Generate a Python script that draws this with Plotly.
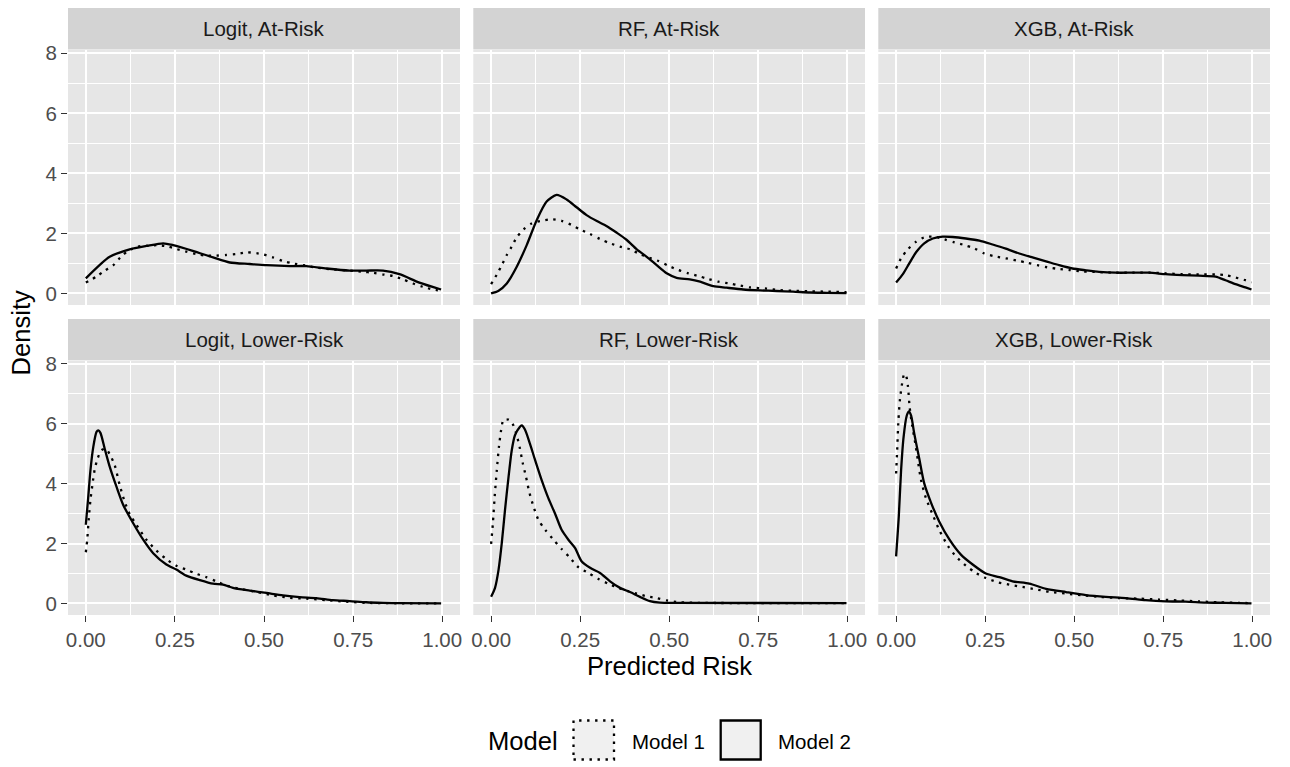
import plotly.graph_objects as go

# ---------------- data ----------------
facet_labels = ["Logit, At-Risk", "RF, At-Risk", "XGB, At-Risk",
                "Logit, Lower-Risk", "RF, Lower-Risk", "XGB, Lower-Risk"]
series_names = ["Model 1", "Model 2"]
x_tickvals = [0, 0.25, 0.5, 0.75, 1.0]
x_ticktext = ["0.00", "0.25", "0.50", "0.75", "1.00"]
y_tickvals = [0, 2, 4, 6, 8]
y_ticktext = ["0", "2", "4", "6", "8"]

# Logit, At-Risk
logit_at_m1_x = [0, 0.03, 0.053, 0.077, 0.097, 0.119, 0.147, 0.175, 0.203, 0.231, 0.254, 0.282, 0.31, 0.338, 0.366,
                 0.394, 0.422, 0.452, 0.479, 0.497, 0.525, 0.553, 0.581, 0.611, 0.647, 0.693, 0.74, 0.778, 0.806,
                 0.834, 0.862, 0.89, 0.918, 0.946, 0.974, 0.997]
logit_at_m1_y = [0.36, 0.56, 0.76, 0.94, 1.2, 1.42, 1.56, 1.59, 1.61, 1.56, 1.48, 1.39, 1.31, 1.26, 1.26,
                 1.28, 1.31, 1.37, 1.34, 1.30, 1.2, 1.08, 1.0, 0.94, 0.86, 0.8, 0.76, 0.72, 0.69,
                 0.63, 0.58, 0.47, 0.33, 0.22, 0.13, 0.09]
logit_at_m2_x = [0, 0.067, 0.123, 0.17, 0.217, 0.245, 0.30, 0.357, 0.404, 0.46, 0.507, 0.572, 0.619, 0.675,
                 0.74, 0.787, 0.834, 0.88, 0.936, 0.997]
logit_at_m2_y = [0.5, 1.22, 1.47, 1.58, 1.67, 1.61, 1.42, 1.2, 1.03, 0.98, 0.94, 0.91, 0.91, 0.83,
                 0.76, 0.76, 0.76, 0.64, 0.36, 0.13]

# RF, At-Risk
rf_at_m1_x = [0, 0.016, 0.03, 0.044, 0.058, 0.072, 0.091, 0.114, 0.142, 0.17, 0.198, 0.226, 0.25, 0.278, 0.306,
              0.334, 0.362, 0.39, 0.418, 0.442, 0.47, 0.498, 0.526, 0.554, 0.582, 0.61, 0.638, 0.671, 0.699,
              0.727, 0.774, 0.811, 0.848, 0.895, 0.942, 0.998]
rf_at_m1_y = [0.31, 0.63, 0.94, 1.28, 1.56, 1.87, 2.13, 2.33, 2.42, 2.47, 2.42, 2.28, 2.13, 1.98, 1.81,
              1.67, 1.56, 1.47, 1.31, 1.2, 1.08, 0.92, 0.78, 0.67, 0.58, 0.48, 0.39, 0.33, 0.26,
              0.2, 0.16, 0.11, 0.09, 0.07, 0.06, 0.04]
rf_at_m2_x = [0, 0.02, 0.044, 0.072, 0.1, 0.128, 0.156, 0.184, 0.212, 0.24, 0.268, 0.297, 0.325, 0.353, 0.381,
              0.409, 0.437, 0.465, 0.493, 0.521, 0.558, 0.587, 0.624, 0.661, 0.708, 0.755, 0.802, 0.848,
              0.895, 0.942, 0.998]
rf_at_m2_y = [0.0, 0.08, 0.33, 0.89, 1.61, 2.44, 3.06, 3.28, 3.13, 2.87, 2.61, 2.41, 2.24, 2.02, 1.78,
              1.47, 1.22, 0.94, 0.67, 0.52, 0.47, 0.39, 0.24, 0.19, 0.13, 0.1, 0.08, 0.06,
              0.03, 0.02, 0.01]

# XGB, At-Risk
xgb_at_m1_x = [0, 0.014, 0.033, 0.056, 0.079, 0.107, 0.136, 0.164, 0.192, 0.22, 0.248, 0.276, 0.308, 0.341,
               0.369, 0.397, 0.425, 0.453, 0.486, 0.523, 0.57, 0.617, 0.664, 0.71, 0.757, 0.804, 0.85, 0.897,
               0.925, 0.953, 0.981, 0.998]
xgb_at_m1_y = [0.83, 1.17, 1.47, 1.72, 1.87, 1.89, 1.8, 1.7, 1.61, 1.5, 1.33, 1.24, 1.17, 1.09,
               1.02, 0.94, 0.87, 0.82, 0.78, 0.73, 0.71, 0.69, 0.69, 0.69, 0.67, 0.64, 0.63, 0.63,
               0.61, 0.53, 0.44, 0.37]
xgb_at_m2_x = [0, 0.019, 0.037, 0.056, 0.079, 0.103, 0.131, 0.159, 0.196, 0.234, 0.271, 0.308, 0.346, 0.383,
               0.421, 0.458, 0.495, 0.533, 0.57, 0.617, 0.664, 0.71, 0.757, 0.804, 0.85, 0.897, 0.925, 0.953,
               0.981, 0.998]
xgb_at_m2_y = [0.36, 0.64, 1.0, 1.37, 1.67, 1.83, 1.89, 1.88, 1.83, 1.76, 1.63, 1.49, 1.33, 1.2,
               1.07, 0.94, 0.83, 0.77, 0.72, 0.69, 0.69, 0.69, 0.64, 0.61, 0.59, 0.56, 0.44, 0.31,
               0.2, 0.13]

# Logit, Lower-Risk
logit_lo_m1_x = [0, 0.004, 0.008, 0.013, 0.019, 0.025, 0.033, 0.044, 0.056, 0.067, 0.081, 0.095, 0.109, 0.123,
                 0.142, 0.17, 0.198, 0.226, 0.254, 0.282, 0.31, 0.338, 0.366, 0.394, 0.432, 0.479, 0.525,
                 0.572, 0.619, 0.675, 0.731, 0.787, 0.997]
logit_lo_m1_y = [1.71, 2.13, 2.79, 3.46, 4.01, 4.48, 4.84, 5.12, 5.17, 4.99, 4.62, 3.96, 3.4, 2.99,
                 2.63, 2.13, 1.77, 1.48, 1.26, 1.13, 0.99, 0.88, 0.74, 0.6, 0.49, 0.38, 0.27,
                 0.19, 0.16, 0.11, 0.06, 0.02, 0.0]
logit_lo_m2_x = [0, 0.0065, 0.013, 0.021, 0.03, 0.035, 0.041, 0.053, 0.067, 0.086, 0.105, 0.133, 0.161, 0.189,
                 0.226, 0.254, 0.282, 0.32, 0.357, 0.385, 0.413, 0.46, 0.507, 0.553, 0.6, 0.647, 0.693, 0.74,
                 0.787, 0.834, 0.88, 0.997]
logit_lo_m2_y = [2.63, 3.51, 4.45, 5.23, 5.73, 5.78, 5.7, 5.17, 4.57, 3.9, 3.29, 2.68, 2.13, 1.68,
                 1.3, 1.13, 0.93, 0.78, 0.66, 0.63, 0.52, 0.43, 0.35, 0.27, 0.21, 0.18, 0.11, 0.08,
                 0.04, 0.02, 0.01, 0.0]

# RF, Lower-Risk
rf_lo_m1_x = [0, 0.005, 0.01, 0.016, 0.022, 0.028, 0.035, 0.049, 0.058, 0.07, 0.08, 0.089, 0.098, 0.107,
              0.119, 0.133, 0.152, 0.175, 0.198, 0.222, 0.245, 0.273, 0.301, 0.329, 0.357, 0.385, 0.409,
              0.437, 0.465, 0.493, 0.53, 0.587, 0.998]
rf_lo_m1_y = [1.99, 2.68, 3.57, 4.45, 5.23, 5.78, 6.14, 6.14, 6.06, 5.7, 5.23, 4.68, 4.23, 3.73,
              3.24, 2.79, 2.46, 2.13, 1.82, 1.52, 1.21, 1.02, 0.82, 0.66, 0.52, 0.41, 0.33,
              0.24, 0.18, 0.1, 0.04, 0.02, 0.01]
rf_lo_m2_x = [0, 0.011, 0.021, 0.03, 0.039, 0.049, 0.058, 0.067, 0.08, 0.086, 0.095, 0.109, 0.123, 0.142,
              0.161, 0.18, 0.198, 0.217, 0.236, 0.254, 0.278, 0.306, 0.334, 0.362, 0.39, 0.418, 0.446,
              0.474, 0.521, 0.998]
rf_lo_m2_y = [0.22, 0.52, 1.13, 2.02, 3.12, 4.23, 5.12, 5.62, 5.89, 5.95, 5.81, 5.34, 4.81, 4.12,
              3.51, 2.99, 2.46, 2.13, 1.85, 1.41, 1.19, 1.02, 0.74, 0.52, 0.38, 0.22, 0.08,
              0.03, 0.02, 0.01]

# XGB, Lower-Risk
xgb_lo_m1_x = [0, 0.003, 0.0065, 0.011, 0.017, 0.023, 0.028, 0.033, 0.038, 0.045, 0.054, 0.061, 0.07, 0.084,
               0.103, 0.121, 0.145, 0.168, 0.196, 0.224, 0.252, 0.285, 0.318, 0.355, 0.393, 0.43, 0.477,
               0.523, 0.57, 0.626, 0.682, 0.738, 0.794, 0.85, 0.907, 0.963, 0.998]
xgb_lo_m1_y = [4.34, 5.12, 6.12, 6.84, 7.36, 7.67, 7.61, 7.28, 6.56, 5.95, 5.34, 4.79, 4.12, 3.51,
               2.96, 2.46, 1.93, 1.57, 1.26, 1.02, 0.85, 0.71, 0.63, 0.55, 0.47, 0.39, 0.33,
               0.27, 0.22, 0.18, 0.16, 0.13, 0.1, 0.07, 0.04, 0.02, 0.01]
xgb_lo_m2_x = [0, 0.0075, 0.014, 0.021, 0.03, 0.036, 0.042, 0.051, 0.065, 0.079, 0.098, 0.121, 0.15, 0.182,
               0.215, 0.252, 0.29, 0.327, 0.374, 0.421, 0.477, 0.533, 0.589, 0.645, 0.701, 0.757, 0.813,
               0.869, 0.925, 0.998]
xgb_lo_m2_y = [1.57, 2.9, 4.45, 5.56, 6.28, 6.42, 6.28, 5.67, 4.84, 4.01, 3.37, 2.74, 2.13, 1.63,
               1.3, 1.0, 0.88, 0.74, 0.66, 0.49, 0.38, 0.28, 0.22, 0.18, 0.11, 0.07, 0.06,
               0.03, 0.02, 0.0]

panel_series = [
    [(logit_at_m1_x, logit_at_m1_y), (logit_at_m2_x, logit_at_m2_y)],
    [(rf_at_m1_x, rf_at_m1_y), (rf_at_m2_x, rf_at_m2_y)],
    [(xgb_at_m1_x, xgb_at_m1_y), (xgb_at_m2_x, xgb_at_m2_y)],
    [(logit_lo_m1_x, logit_lo_m1_y), (logit_lo_m2_x, logit_lo_m2_y)],
    [(rf_lo_m1_x, rf_lo_m1_y), (rf_lo_m2_x, rf_lo_m2_y)],
    [(xgb_lo_m1_x, xgb_lo_m1_y), (xgb_lo_m2_x, xgb_lo_m2_y)],
]

# ---------------- layout geometry ----------------
W, H = 1290, 767
FONT = "Liberation Sans, Arial, Helvetica, sans-serif"
DOT = "2.4px,5.6px"
PANEL_BG = "#E6E6E6"
STRIP_BG = "#D3D3D3"


def px(x):
    return x / W


def py(y):
    return 1 - y / H


col_px = [(68, 460), (473.3, 865), (878.3, 1270)]
row_px = [(50, 305), (360.7, 615)]
strip_px = [(8, 49.5), (319, 360.2)]

fig = go.Figure()
shapes = []
annotations = []
layout_axes = {}

for i in range(6):
    r, c = divmod(i, 3)
    n = i + 1
    xa = "x" if n == 1 else f"x{n}"
    ya = "y" if n == 1 else f"y{n}"
    xkey = "xaxis" if n == 1 else f"xaxis{n}"
    ykey = "yaxis" if n == 1 else f"yaxis{n}"
    bottom = r == 1
    left = c == 0
    layout_axes[xkey] = dict(
        domain=[px(col_px[c][0]), px(col_px[c][1])],
        anchor=ya, range=[-0.05, 1.05], automargin=False,
        tickvals=x_tickvals, ticktext=x_ticktext,
        showticklabels=bottom, ticks="outside" if bottom else "",
        ticklen=6, tickwidth=1.3, tickcolor="#333333",
        tickfont=dict(family=FONT, size=20.5, color="#4D4D4D"),
        showgrid=True, gridcolor="white", gridwidth=2.2,
        minor=dict(dtick=0.125, tick0=0, showgrid=True, gridcolor="white", gridwidth=1.1, ticks=""),
        zeroline=False, showline=False, fixedrange=True,
    )
    layout_axes[ykey] = dict(
        domain=[py(row_px[r][1]), py(row_px[r][0])],
        anchor=xa, range=[-0.386, 8.11], automargin=False,
        tickvals=y_tickvals, ticktext=y_ticktext,
        showticklabels=left, ticks="outside" if left else "",
        ticklen=6, tickwidth=1.3, tickcolor="#333333",
        tickfont=dict(family=FONT, size=20.5, color="#4D4D4D"),
        showgrid=True, gridcolor="white", gridwidth=2.2,
        minor=dict(dtick=1, tick0=0, showgrid=True, gridcolor="white", gridwidth=1.1, ticks=""),
        zeroline=False, showline=False, fixedrange=True,
    )
    for k, (sx, sy) in enumerate(panel_series[i]):
        fig.add_trace(go.Scatter(
            x=sx, y=sy, mode="lines", xaxis=xa, yaxis=ya,
            name=series_names[k], showlegend=False,
            line=dict(color="black", width=2.3, dash=DOT if k == 0 else "solid",
                      shape="spline", smoothing=0.7),
            hoverinfo="skip",
        ))
    # strip
    shapes.append(dict(type="rect", xref="paper", yref="paper", layer="below",
                       x0=px(col_px[c][0]), x1=px(col_px[c][1]),
                       y0=py(strip_px[r][1]), y1=py(strip_px[r][0]),
                       fillcolor=STRIP_BG, line=dict(width=0)))
    annotations.append(dict(xref="paper", yref="paper", showarrow=False,
                            x=px((col_px[c][0] + col_px[c][1]) / 2),
                            y=py((strip_px[r][0] + strip_px[r][1]) / 2),
                            text=facet_labels[i], xanchor="center", yanchor="middle",
                            font=dict(family=FONT, size=20.5, color="#1A1A1A")))

# axis titles
annotations.append(dict(xref="paper", yref="paper", showarrow=False, x=px(669), y=py(666),
                        text="Predicted Risk", xanchor="center", yanchor="middle",
                        font=dict(family=FONT, size=25.6, color="black")))
annotations.append(dict(xref="paper", yref="paper", showarrow=False, x=px(20), y=py(332.5),
                        text="Density", textangle=-90, xanchor="center", yanchor="middle",
                        font=dict(family=FONT, size=25.6, color="black")))

# legend (drawn manually to mimic ggplot key boxes)
leg_y0, leg_y1 = 720.5, 759.5
annotations.append(dict(xref="paper", yref="paper", showarrow=False, x=px(486), y=py(741),
                        text="Model", xanchor="left", yanchor="middle",
                        font=dict(family=FONT, size=25.6, color="black")))
key_boxes = [(573.5, 614), (720.7, 760.7)]
key_text_x = [629.5, 776]
for k, name in enumerate(series_names):
    x0, x1 = key_boxes[k]
    shapes.append(dict(type="rect", xref="paper", yref="paper",
                       x0=px(x0), x1=px(x1), y0=py(leg_y1), y1=py(leg_y0),
                       fillcolor="#F0F0F0",
                       line=dict(color="black", width=2.3, dash=DOT if k == 0 else "solid")))
    annotations.append(dict(xref="paper", yref="paper", showarrow=False, x=px(key_text_x[k]), y=py(741),
                            text=name, xanchor="left", yanchor="middle",
                            font=dict(family=FONT, size=20.5, color="black")))

fig.update_layout(
    width=W, height=H, autosize=False,
    margin=dict(l=0, r=0, t=0, b=0, pad=0, autoexpand=False),
    paper_bgcolor="white", plot_bgcolor=PANEL_BG,
    font=dict(family=FONT, color="#4D4D4D"),
    shapes=shapes, annotations=annotations, showlegend=False,
    **layout_axes,
)

fig.write_html(
    "out.html",
    config={"displayModeBar": False, "responsive": False},
    post_script="document.body.style.margin='0';document.body.style.padding='0';"
                "document.body.style.overflow='hidden';",
)
